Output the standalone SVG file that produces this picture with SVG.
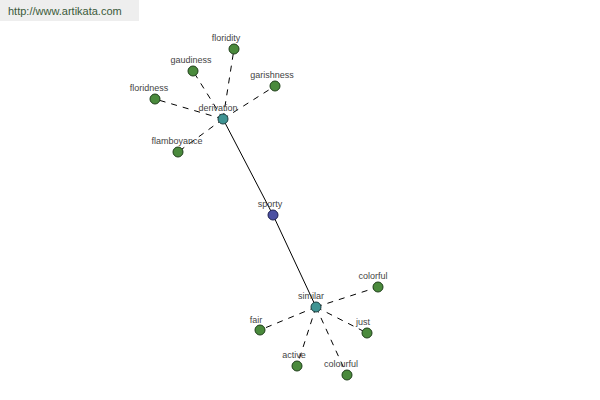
<svg xmlns="http://www.w3.org/2000/svg" width="600" height="400" viewBox="0 0 600 400">
<style>
.lbl{font-family:"Liberation Sans",Arial,sans-serif;font-size:9px;fill:#444;text-anchor:middle}
.leaf{fill:#4a8a3c;stroke:#1f3f1a;stroke-width:1}
.hub{fill:#3f9493;stroke:#1c3f40;stroke-width:1}
.main{fill:#4a4fa2;stroke:#1e2050;stroke-width:1}
.dash{stroke:#000;stroke-width:1;stroke-dasharray:6,6;fill:none}
.solid{stroke:#000;stroke-width:1;fill:none}
</style>
<rect x="0" y="0" width="600" height="400" fill="#fff"/>
<rect x="0" y="0" width="139" height="21" fill="#eeeeee"/>
<text x="8" y="15" font-family="Liberation Sans,Arial,sans-serif" font-size="11" fill="#3a5a3a">http://www.artikata.com</text>
<g id="connectors">
<line class="solid" x1="223" y1="119" x2="273" y2="215"/>
<line class="solid" x1="273" y1="215" x2="316" y2="307"/>
<line class="dash" x1="223" y1="119" x2="234" y2="49"/>
<line class="dash" x1="223" y1="119" x2="193" y2="71"/>
<line class="dash" x1="223" y1="119" x2="275" y2="86"/>
<line class="dash" x1="223" y1="119" x2="155" y2="99"/>
<line class="dash" x1="223" y1="119" x2="178" y2="152"/>
<line class="dash" x1="316" y1="307" x2="378" y2="287"/>
<line class="dash" x1="316" y1="307" x2="260" y2="330"/>
<line class="dash" x1="316" y1="307" x2="367" y2="333"/>
<line class="dash" x1="316" y1="307" x2="297" y2="366"/>
<line class="dash" x1="316" y1="307" x2="347" y2="375"/>
</g>
<g id="floridity"><circle class="leaf" cx="234" cy="49" r="5"/><text class="lbl" x="226" y="41">floridity</text></g>
<g id="gaudiness"><circle class="leaf" cx="193" cy="71" r="5"/><text class="lbl" x="191" y="63">gaudiness</text></g>
<g id="garishness"><circle class="leaf" cx="275" cy="86" r="5"/><text class="lbl" x="272" y="78">garishness</text></g>
<g id="floridness"><circle class="leaf" cx="155" cy="99" r="5"/><text class="lbl" x="149" y="91">floridness</text></g>
<g id="flamboyance"><circle class="leaf" cx="178" cy="152" r="5"/><text class="lbl" x="177" y="144">flamboyance</text></g>
<g id="derivation"><circle class="hub" cx="223" cy="119" r="5"/><text class="lbl" x="218" y="111">derivation</text></g>
<g id="sporty"><circle class="main" cx="273" cy="215" r="5"/><text class="lbl" x="270" y="207">sporty</text></g>
<g id="similar"><circle class="hub" cx="316" cy="307" r="5"/><text class="lbl" x="311" y="299">similar</text></g>
<g id="colorful"><circle class="leaf" cx="378" cy="287" r="5"/><text class="lbl" x="373" y="279">colorful</text></g>
<g id="fair"><circle class="leaf" cx="260" cy="330" r="5"/><text class="lbl" x="256" y="323">fair</text></g>
<g id="just"><circle class="leaf" cx="367" cy="333" r="5"/><text class="lbl" x="363" y="325">just</text></g>
<g id="active"><circle class="leaf" cx="297" cy="366" r="5"/><text class="lbl" x="294" y="358">active</text></g>
<g id="colourful"><circle class="leaf" cx="347" cy="375" r="5"/><text class="lbl" x="341" y="367">colourful</text></g>
</svg>
